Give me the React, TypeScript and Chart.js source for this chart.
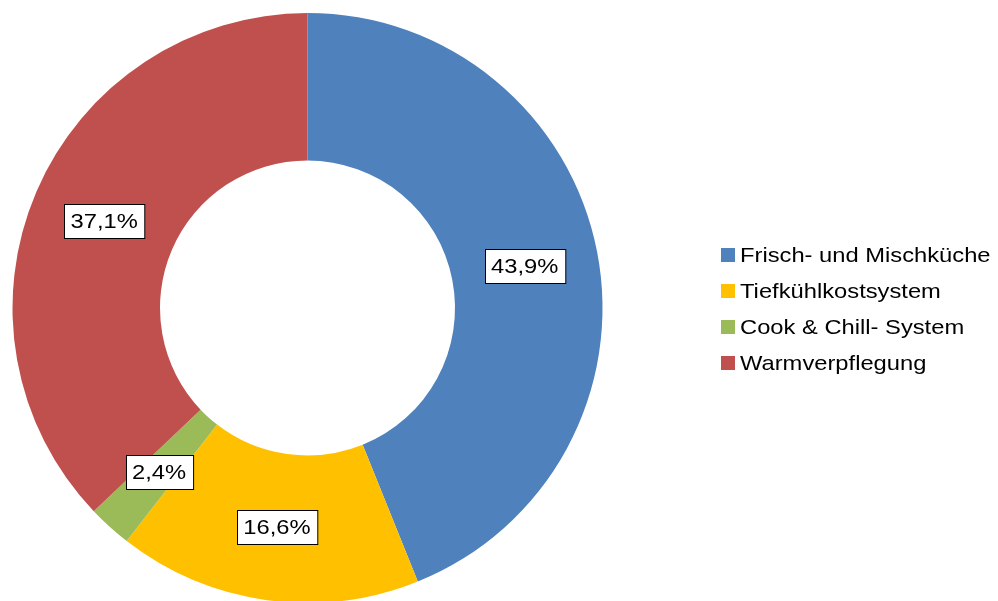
import React, { useEffect, useRef } from "react";
import { Chart, registerables } from "chart.js";

Chart.register(...registerables);

const categories = ["Frisch- und Mischküche", "Tiefkühlkostsystem", "Cook & Chill- System", "Warmverpflegung"];
const values = [43.9, 16.6, 2.4, 37.1];
const valueLabels = ["43,9%", "16,6%", "2,4%", "37,1%"];
const colors = ["#4F81BD", "#FFC000", "#9BBB59", "#C0504D"];

const FONT = '"Liberation Sans", Arial, sans-serif';
const SX = 1.13;

function stretchedText(ctx: CanvasRenderingContext2D, text: string, x: number, y: number) {
  ctx.save();
  ctx.translate(x, y);
  ctx.scale(SX, 1);
  ctx.fillText(text, 0, 0);
  ctx.restore();
}

const labelPlugin = {
  id: "boxLabels",
  afterDatasetsDraw(chart: any) {
    const ctx = chart.ctx;
    const meta = chart.getDatasetMeta(0);
    ctx.save();
    ctx.font = `21px ${FONT}`;
    ctx.textAlign = "left";
    ctx.textBaseline = "middle";
    meta.data.forEach((el: any, i: number) => {
      const p = el.tooltipPosition();
      const text = valueLabels[i];
      const tw = ctx.measureText(text).width * SX;
      const w = tw + 13;
      const h = 34;
      const x = Math.round(p.x - w / 2) + 0.5;
      const y = Math.round(p.y - h / 2) + 0.5;
      ctx.fillStyle = "#ffffff";
      ctx.fillRect(x, y, w, h);
      ctx.strokeStyle = "#000000";
      ctx.lineWidth = 1;
      ctx.strokeRect(x, y, w, h);
      ctx.fillStyle = "#000000";
      stretchedText(ctx, text, p.x - tw / 2, p.y + 1);
    });
    ctx.restore();
  },
};

const legendPlugin = {
  id: "sideLegend",
  afterDraw(chart: any) {
    const ctx = chart.ctx;
    ctx.save();
    ctx.font = `21px ${FONT}`;
    ctx.textAlign = "left";
    ctx.textBaseline = "middle";
    categories.forEach((c, i) => {
      const cy = 255 + i * 36;
      ctx.fillStyle = colors[i];
      ctx.fillRect(721, cy - 7, 14, 14);
      ctx.fillStyle = "#000000";
      stretchedText(ctx, c, 740, cy + 1);
    });
    ctx.restore();
  },
};

export default function App() {
  const ref = useRef<HTMLCanvasElement>(null);
  useEffect(() => {
    if (!ref.current) return;
    const chart = new Chart(ref.current, {
      type: "doughnut",
      data: {
        labels: categories,
        datasets: [
          {
            data: values,
            backgroundColor: colors,
            borderWidth: 0,
          },
        ],
      },
      options: {
        responsive: false,
        animation: false,
        cutout: "50%",
        layout: { padding: { left: 12, right: 395, top: 13, bottom: 17 } },
        plugins: {
          legend: { display: false },
          tooltip: { enabled: false },
          title: { display: false },
        },
      },
      plugins: [labelPlugin, legendPlugin],
    });
    return () => chart.destroy();
  }, []);
  return (
    <div style={{ position: "fixed", left: 0, top: 0, width: 998, height: 601, overflow: "hidden", background: "#fff" }}>
      <canvas ref={ref} width={998} height={620} style={{ display: "block" }} />
    </div>
  );
}
